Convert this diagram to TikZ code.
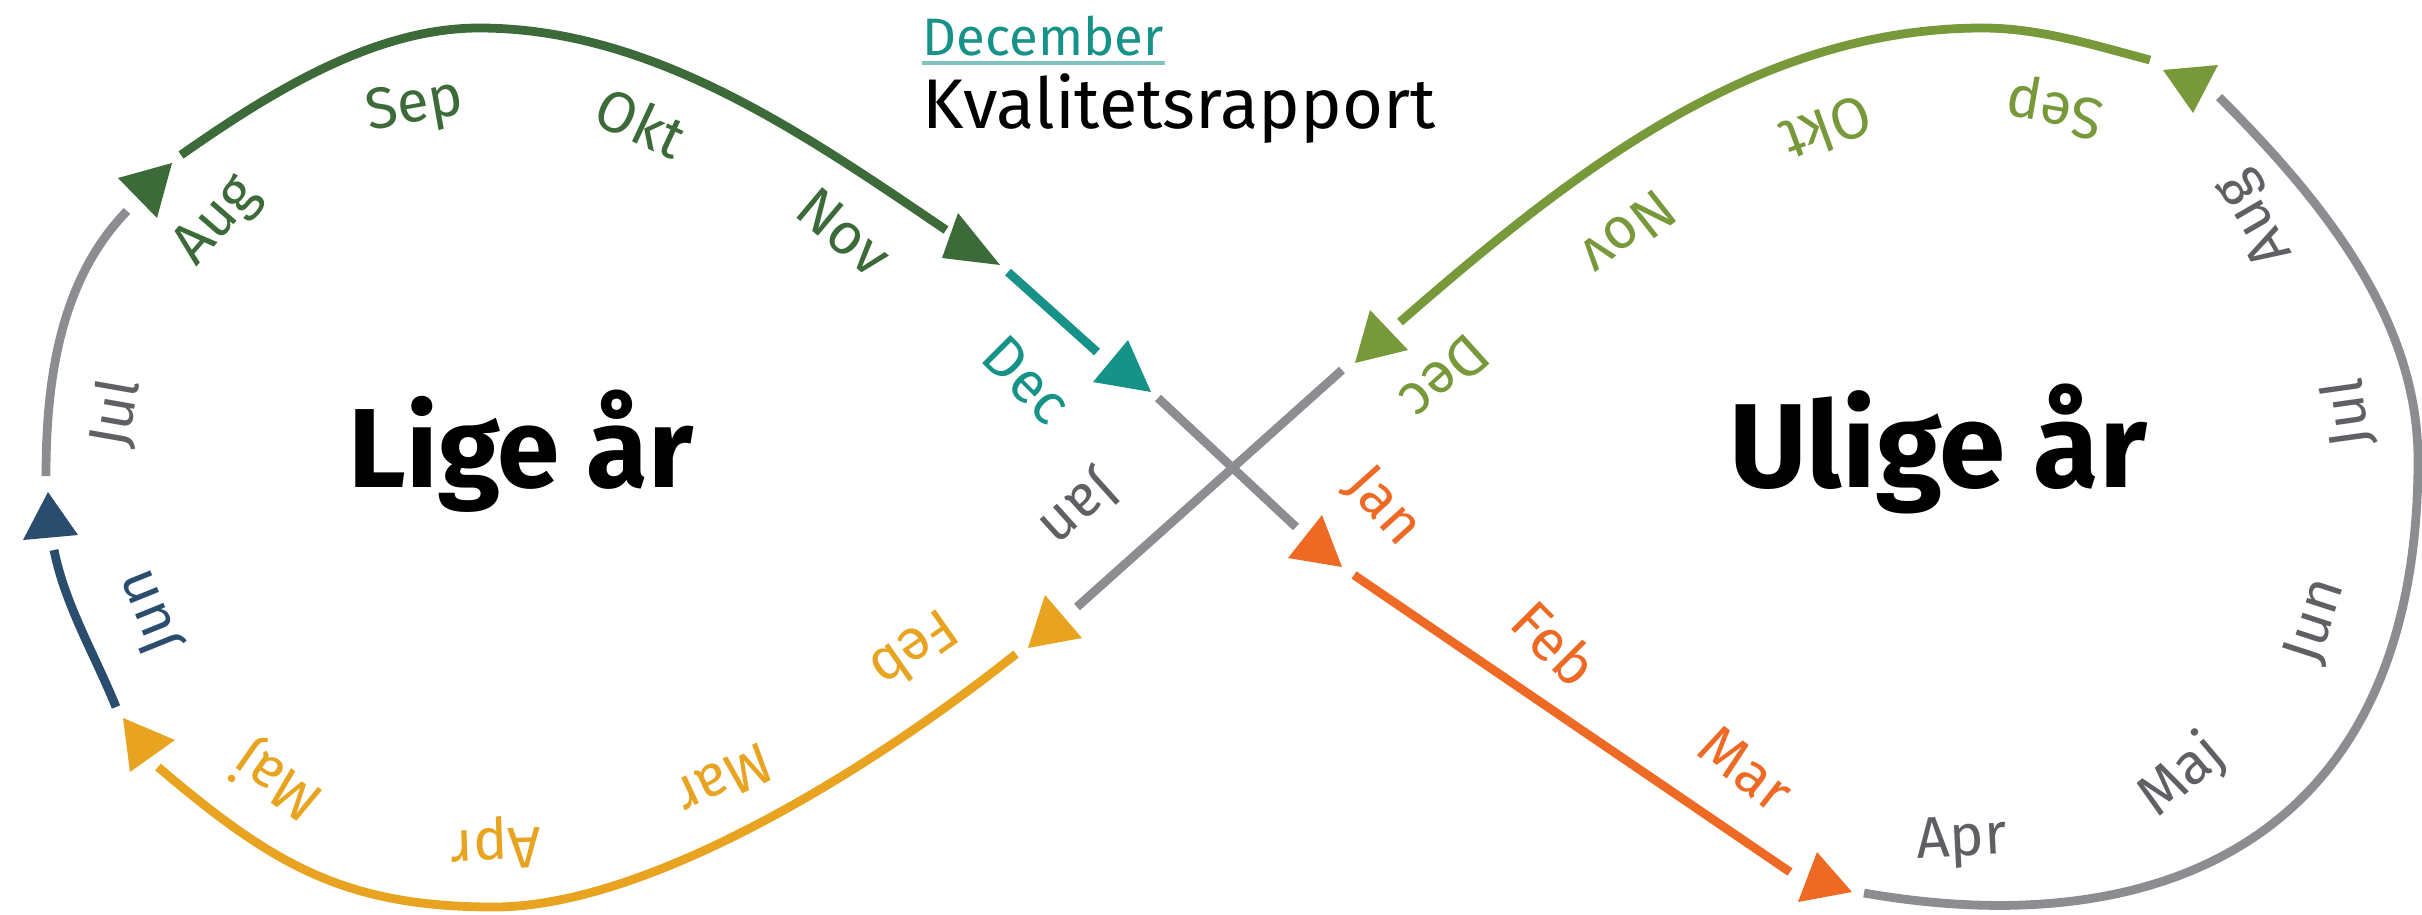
\documentclass[tikz,border=0pt]{standalone}
\usepackage{fontspec}
\setmainfont{Fira Sans}
\definecolor{dgreen}{RGB}{60,106,56}
\definecolor{lgreen}{RGB}{119,153,58}
\definecolor{decteal}{RGB}{22,146,136}
\definecolor{lgray}{RGB}{140,141,145}
\definecolor{gtext}{RGB}{95,96,100}
\definecolor{orangeR}{RGB}{238,106,36}
\definecolor{yellowL}{RGB}{232,164,32}
\definecolor{junblue}{RGB}{42,77,110}
\tikzset{seg/.style={line width=2.5pt},
  month/.style={font=\fontsize{16.5}{16.5}\selectfont,inner sep=0pt},
  year/.style={font=\fontsize{32}{32}\selectfont\bfseries,inner sep=0pt,anchor=base}}

\begin{document}
\begin{tikzpicture}[x=0.1mm,y=-0.1mm]
	\useasboundingbox (0,0) rectangle (2422,914);
	\draw[seg,lgray] (46,476) .. controls (46,380) and (60,280) .. (127,211);
	\fill[dgreen] (118,178) -- (172,163) -- (157,218) -- cycle;
	\draw[seg,dgreen] (181,155) .. controls (271,92) and (374,28) .. (479,28) .. controls (652,28) and (803,133) .. (946,230);
	\fill[dgreen] (958,213) -- (942,258) -- (1000,265) -- cycle;
	\draw[seg,decteal] (1008,272) -- (1097,352);
	\fill[decteal] (1128,340) -- (1093,382) -- (1151,392) -- cycle;
	\draw[seg,lgray] (1158,398) -- (1296,527);
	\fill[orangeR] (1322,515) -- (1288,558) -- (1342,567) -- cycle;
	\draw[seg,orangeR] (1354,575) -- (1790,872);
	\fill[orangeR] (1817,852) -- (1798,902) -- (1852,892) -- cycle;
	\draw[seg,lgray] (1864,893) .. controls (2160,945) and (2418,840) .. (2418,460) .. controls (2418,317) and (2320,198) .. (2219,97);
	\fill[lgreen] (2163,70) -- (2218,65) -- (2193,113) -- cycle;
	\draw[seg,lgreen] (2150,60) .. controls (2097,46) and (2040,28) .. (1983,28) .. controls (1755,28) and (1572,172) .. (1400,322);
	\fill[lgreen] (1370,310) -- (1355,363) -- (1408,350) -- cycle;
	\draw[seg,lgray] (1342,370) -- (1077,607);
	\fill[yellowL] (1045,595) -- (1028,648) -- (1082,638) -- cycle;
	\draw[seg,yellowL] (1016,654) .. controls (883,760) and (654,907) .. (494,907) .. controls (344,907) and (272,864) .. (158,767);
	\fill[yellowL] (123,718) -- (175,740) -- (130,772) -- cycle;
	\draw[seg,junblue] (116,707) .. controls (95,655) and (65,605) .. (54,550);
	\fill[junblue] (48,492) -- (23,540) -- (78,535) -- cycle;
	\node[month,gtext,rotate=80] (julL) at (116,413) {Jul};
	\node[month,dgreen,rotate=49] (augL) at (218,222) {Aug};
	\node[month,dgreen,rotate=10] (sepL) at (415,108) {Sep};
	\node[month,dgreen,rotate=-25] (oktL) at (641,122) {Okt};
	\node[month,dgreen,rotate=-40] (novL) at (844,232) {Nov};
	\node[month,decteal,rotate=-45] (decL) at (1027,380) {Dec};
	\node[month,gtext,rotate=222] (janL) at (1078,507) {Jan};
	\node[month,yellowL,rotate=215] (febL) at (915,651) {Feb};
	\node[month,yellowL,rotate=205] (marL) at (724,780) {Mar};
	\node[month,yellowL,rotate=182] (aprL) at (496,843) {Apr};
	\node[month,yellowL,rotate=145] (majL) at (278,780) {Maj};
	\node[month,junblue,rotate=112] (junL) at (150,612) {Jun};
	\node[month,orangeR,rotate=-48] (janR) at (1383,507) {Jan};
	\node[month,orangeR,rotate=-45] (febR) at (1555,643) {Feb};
	\node[month,orangeR,rotate=-38] (marR) at (1746,769) {Mar};
	\node[month,gtext,rotate=3] (aprR) at (1962,842) {Apr};
	\node[month,gtext,rotate=40] (majR) at (2182,776) {Maj};
	\node[month,gtext,rotate=72] (junR) at (2316,621) {Jun};
	\node[month,gtext,rotate=98] (julR) at (2348,413) {Jul};
	\node[month,gtext,rotate=120] (augR) at (2256,218) {Aug};
	\node[month,lgreen,rotate=170] (sepR) at (2055,107) {Sep};
	\node[month,lgreen,rotate=200] (oktR) at (1827,129) {Okt};
	\node[month,lgreen,rotate=218] (novR) at (1628,233) {Nov};
	\node[month,lgreen,rotate=222] (decR) at (1445,377) {Dec};
	\node[year] (lige) at (521,487) {Lige år};
	\node[year,font=\fontsize{34}{34}\selectfont\bfseries] (ulige) at (1938,487) {Ulige år};
	\node[anchor=base west,inner sep=0pt,text=decteal,font=\fontsize{15}{15}\selectfont] (december) at (922,55) {December};
	\draw[decteal!55,line width=1.1pt] ([yshift=-1.8pt]december.south west) -- ([yshift=-1.8pt]december.south east);
	\node[anchor=base west,inner sep=0pt,font=\fontsize{20}{20}\selectfont] (rapport) at (922,128) {Kvalitetsrapport};
\end{tikzpicture}
\end{document}
